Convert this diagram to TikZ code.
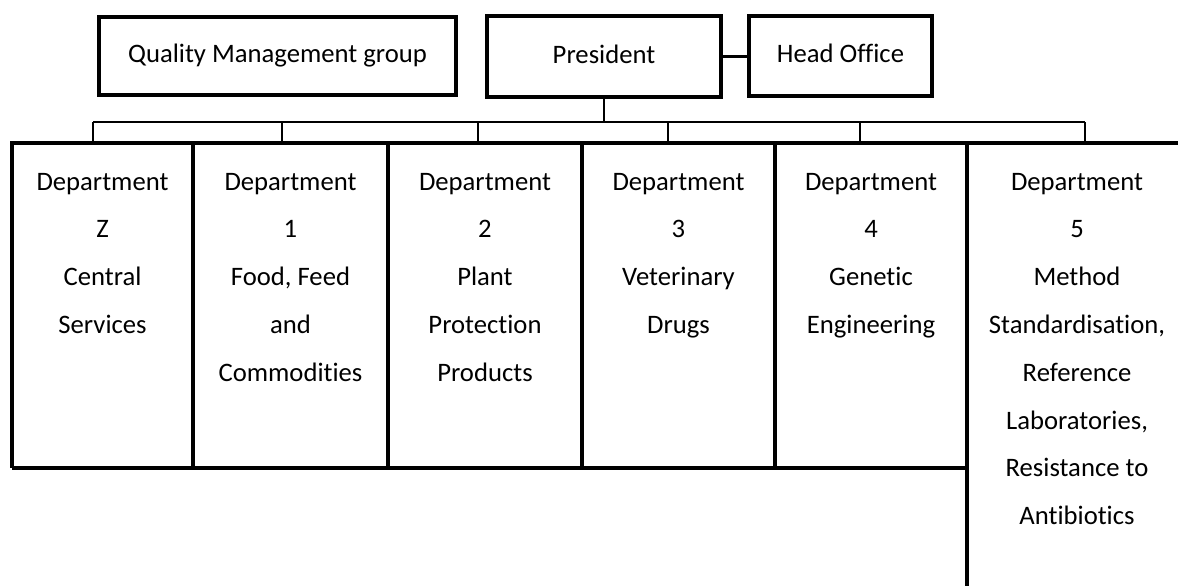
\documentclass[tikz,border=0pt]{standalone}
\usepackage{fontspec}
\setmainfont{Carlito}[Ligatures=NoCommon]
\usetikzlibrary{positioning}
\frenchspacing

\begin{document}
\begin{tikzpicture}[x=0.75pt,y=-0.75pt,
box/.style={draw,rectangle,line width=3pt,text height=14pt,text depth=4pt,font=\fontsize{20}{24}\selectfont},
link/.style={line width=2pt},
grid/.style={line width=3.4pt},
dept/.style={anchor=base,align=flush center,text width=140pt,inner sep=0pt,font=\fontsize{20}{35.85}\selectfont}]
\useasboundingbox (0,0) rectangle (1178,586);
\node (qmg) [box,minimum width=267.8pt,minimum height=58.5pt] at (277.5,56) {Quality Management group};
\node (pres) [box,minimum width=175.5pt,minimum height=60.8pt] at (604,56.5) {President};
\node (hoff) [box,minimum width=137.3pt,minimum height=59.3pt] at (840.5,56) {Head Office};
\draw [link] (pres.east) -- (pres.east -| hoff.west);
\foreach \x [count=\i] in {93,282,478,668,860,1085} {
  \coordinate (bus\i) at (\x,122);
  \coordinate (cell\i) at (\x,143);
  \draw [link] (bus\i) -- (cell\i);
}
\draw [link] (bus1) -- (bus6);
\draw [link] (pres.south) -- (pres.south |- bus1);
\draw [grid] (12,468) -- (12,143) -- (1178,143);
\draw [grid] (12,468) -- (967,468);
\foreach \x in {193,388,582,775}
  \draw [grid] (\x,143) -- (\x,468);
\draw [grid] (967,143) -- (967,586);
\node (deptz) [dept] at (102.5,190) {Department\\Z\\Central\\Services};
\node (dept1) [dept] at (290.5,190) {Department\\1\\Food, Feed\\and\\Commodities};
\node (dept2) [dept] at (485,190) {Department\\2\\Plant\\Protection\\Products};
\node (dept3) [dept] at (678.5,190) {Department\\3\\Veterinary\\Drugs};
\node (dept4) [dept] at (871,190) {Department\\4\\Genetic\\Engineering};
\node (dept5) [dept] at (1077,190) {Department\\5\\Method\\Standardisation,\\Reference\\Laboratories,\\Resistance to\\Antibiotics};
\end{tikzpicture}
\end{document}
